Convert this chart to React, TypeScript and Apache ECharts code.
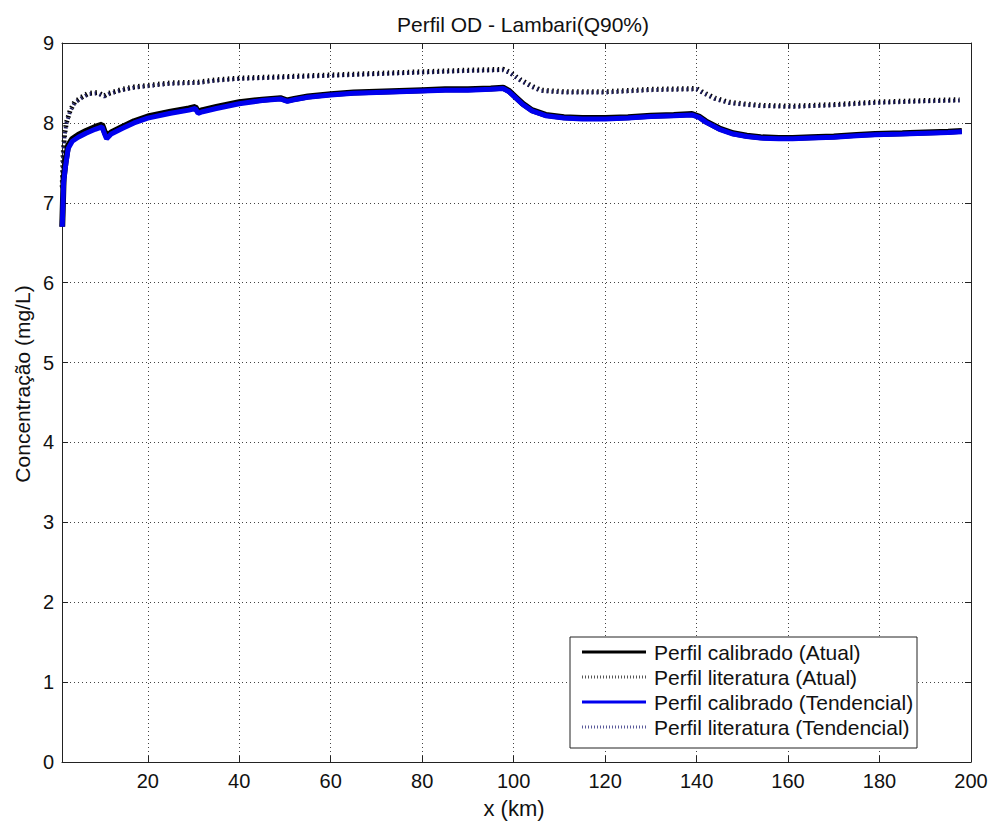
import React, { useEffect, useRef } from "react";
import * as echarts from "echarts";

const xCal = [1.3, 1.6, 2.0, 2.6, 3.5, 4.8, 6.5, 8.5, 10, 10.5, 11, 12, 14.4, 17, 20, 25, 29, 30.4, 31, 32, 35, 40, 45, 49, 50.5, 52, 55, 60, 65, 70, 75, 80, 85, 90, 95, 97.7, 99, 100.5, 102, 104, 107, 111, 115, 120, 125, 130, 135, 139, 140.5, 142, 145, 148, 151, 154, 158, 161, 165, 170, 175, 179, 185, 190, 195, 198];
const yCalAtual = [6.7, 7.3, 7.5, 7.72, 7.8, 7.85, 7.9, 7.95, 7.98, 7.9, 7.83, 7.88, 7.95, 8.02, 8.08, 8.14, 8.18, 8.2, 8.14, 8.16, 8.2, 8.26, 8.29, 8.31, 8.28, 8.3, 8.33, 8.36, 8.38, 8.39, 8.4, 8.41, 8.42, 8.42, 8.43, 8.44, 8.4, 8.32, 8.24, 8.16, 8.1, 8.07, 8.06, 8.06, 8.07, 8.09, 8.1, 8.11, 8.08, 8.02, 7.93, 7.87, 7.84, 7.82, 7.81, 7.81, 7.82, 7.83, 7.85, 7.86, 7.87, 7.88, 7.89, 7.9];
const yCalTend = [6.7, 7.25, 7.45, 7.68, 7.77, 7.82, 7.87, 7.92, 7.95, 7.87, 7.8, 7.86, 7.93, 8.0, 8.06, 8.12, 8.16, 8.18, 8.12, 8.14, 8.18, 8.24, 8.28, 8.3, 8.27, 8.29, 8.32, 8.35, 8.37, 8.38, 8.39, 8.4, 8.41, 8.41, 8.42, 8.43, 8.39, 8.31, 8.23, 8.15, 8.09, 8.06, 8.05, 8.05, 8.06, 8.08, 8.09, 8.1, 8.07, 8.01, 7.92, 7.86, 7.83, 7.81, 7.8, 7.8, 7.81, 7.82, 7.84, 7.85, 7.86, 7.87, 7.88, 7.89];

const xLit = [1.3, 1.5, 1.8, 2.2, 3, 4, 5.5, 7, 9, 10.5, 11.5, 14.4, 17, 20, 25, 31, 35, 40, 45, 50, 55, 60, 70, 80, 90, 97.7, 99, 101.5, 104, 106, 111, 120, 130, 140, 141.5, 144, 147, 150, 154, 161, 170, 179, 190, 197.5];
const yLitAtual = [7.2, 7.6, 7.85, 8.0, 8.15, 8.26, 8.32, 8.37, 8.38, 8.34, 8.37, 8.42, 8.45, 8.47, 8.5, 8.51, 8.54, 8.56, 8.57, 8.58, 8.59, 8.6, 8.62, 8.64, 8.66, 8.67, 8.64, 8.54, 8.46, 8.41, 8.39, 8.39, 8.42, 8.43, 8.38, 8.31, 8.26, 8.24, 8.22, 8.21, 8.23, 8.26, 8.28, 8.29];
const yLitTend = [7.18, 7.58, 7.83, 7.99, 8.14, 8.25, 8.31, 8.36, 8.37, 8.33, 8.36, 8.41, 8.44, 8.46, 8.49, 8.5, 8.53, 8.55, 8.56, 8.57, 8.58, 8.59, 8.61, 8.63, 8.65, 8.66, 8.63, 8.53, 8.45, 8.4, 8.38, 8.38, 8.41, 8.42, 8.37, 8.3, 8.25, 8.23, 8.21, 8.2, 8.22, 8.25, 8.27, 8.28];

const xTicks = [20, 40, 60, 80, 100, 120, 140, 160, 180, 200];
const seriesNames = [
  "Perfil calibrado (Atual)",
  "Perfil literatura (Atual)",
  "Perfil calibrado (Tendencial)",
  "Perfil literatura (Tendencial)",
];

const FONT = '"Liberation Sans", Arial, sans-serif';
const BLUE = "#0000ee";

const pairs = (xs: number[], ys: number[]) => xs.map((x, i) => [x, ys[i]]);

export default function App() {
  const ref = useRef<HTMLDivElement>(null);
  useEffect(() => {
    if (!ref.current) return;
    const chart = echarts.init(ref.current, undefined, { renderer: "svg" });
    const xMin = 1.25;
    const xMax = 200;
    const axisCol = "#222";
    const gridLine = { show: true, lineStyle: { color: "#444", width: 1, type: [1, 3] as any } };
    const legendRows = [652, 677, 702, 727];
    const legendStyles = [
      { stroke: "#000", lineWidth: 3, lineDash: null as any },
      { stroke: "#555", lineWidth: 3, lineDash: [1, 2] },
      { stroke: BLUE, lineWidth: 3, lineDash: null as any },
      { stroke: "#5a5a9a", lineWidth: 3, lineDash: [1, 2] },
    ];
    const legendEls: any[] = [
      {
        type: "rect",
        shape: { x: 570, y: 637, width: 347, height: 111 },
        style: { fill: "#fff", stroke: "#222", lineWidth: 1 },
        z: 100,
      },
    ];
    legendRows.forEach((y, i) => {
      legendEls.push({
        type: "line",
        shape: { x1: 582, y1: y, x2: 646, y2: y },
        style: { ...legendStyles[i], fill: null },
        z: 101,
      });
      legendEls.push({
        type: "text",
        x: 654,
        y: y,
        style: {
          text: seriesNames[i],
          fill: "#111",
          font: `21px ${FONT}`,
          textAlign: "left",
          textVerticalAlign: "middle",
        },
        z: 101,
      });
    });

    chart.setOption({
      animation: false,
      backgroundColor: "#fff",
      title: {
        text: "Perfil OD - Lambari(Q90%)",
        left: 518,
        top: 9,
        textAlign: "center",
        textStyle: { fontFamily: FONT, fontSize: 21, fontWeight: "normal", color: "#111" },
      },
      grid: { left: 62, right: 22, top: 43, bottom: 63 },
      xAxis: [
        {
          type: "value",
          min: xMin,
          max: xMax,
          position: "bottom",
          axisLine: { show: true, onZero: false, lineStyle: { color: axisCol, width: 1 } },
          axisTick: { show: true, inside: true, length: 6, customValues: xTicks, lineStyle: { color: axisCol } },
          axisLabel: { show: true, customValues: xTicks, fontSize: 20, fontFamily: FONT, color: "#111", margin: 9 },
          splitLine: gridLine,
        },
        {
          type: "value",
          min: xMin,
          max: xMax,
          position: "top",
          axisLine: { show: true, onZero: false, lineStyle: { color: axisCol, width: 1 } },
          axisTick: { show: true, inside: true, length: 6, customValues: xTicks, lineStyle: { color: axisCol } },
          axisLabel: { show: false },
          splitLine: { show: false },
        },
      ],
      yAxis: [
        {
          type: "value",
          min: 0,
          max: 9,
          interval: 1,
          position: "left",
          axisLine: { show: true, onZero: false, lineStyle: { color: axisCol, width: 1 } },
          axisTick: { show: true, inside: true, length: 6, lineStyle: { color: axisCol } },
          axisLabel: { show: true, fontSize: 20, fontFamily: FONT, color: "#111", margin: 8 },
          splitLine: gridLine,
        },
        {
          type: "value",
          min: 0,
          max: 9,
          interval: 1,
          position: "right",
          axisLine: { show: true, onZero: false, lineStyle: { color: axisCol, width: 1 } },
          axisTick: { show: true, inside: true, length: 6, lineStyle: { color: axisCol } },
          axisLabel: { show: false },
          splitLine: { show: false },
        },
      ],
      series: [
        {
          name: seriesNames[1],
          type: "line",
          data: pairs(xLit, yLitAtual),
          showSymbol: false,
          lineStyle: { color: "#000", width: 5, type: [1.5, 3.5], cap: "butt" },
          z: 2,
        },
        {
          name: seriesNames[3],
          type: "line",
          data: pairs(xLit, yLitTend),
          showSymbol: false,
          lineStyle: { color: "#1e1e5e", width: 4, type: [1.5, 3.5], cap: "butt" },
          z: 3,
        },
        {
          name: seriesNames[0],
          type: "line",
          data: pairs(xCal, yCalAtual),
          showSymbol: false,
          lineStyle: { color: "#000", width: 6 },
          z: 4,
        },
        {
          name: seriesNames[2],
          type: "line",
          data: pairs(xCal, yCalTend),
          showSymbol: false,
          lineStyle: { color: BLUE, width: 5 },
          z: 5,
        },
      ],
      graphic: [
        {
          type: "text",
          x: 22,
          y: 384,
          rotation: Math.PI / 2,
          style: {
            text: "Concentração (mg/L)",
            fill: "#111",
            font: `21px ${FONT}`,
            textAlign: "center",
            textVerticalAlign: "middle",
          },
        },
        {
          type: "text",
          x: 514,
          y: 808,
          style: {
            text: "x (km)",
            fill: "#111",
            font: `22px ${FONT}`,
            textAlign: "center",
            textVerticalAlign: "middle",
          },
        },
        ...legendEls,
      ],
    });
    return () => chart.dispose();
  }, []);
  return (
    <div
      ref={ref}
      style={{ position: "absolute", left: 0, top: 0, width: 993, height: 825 }}
    />
  );
}
